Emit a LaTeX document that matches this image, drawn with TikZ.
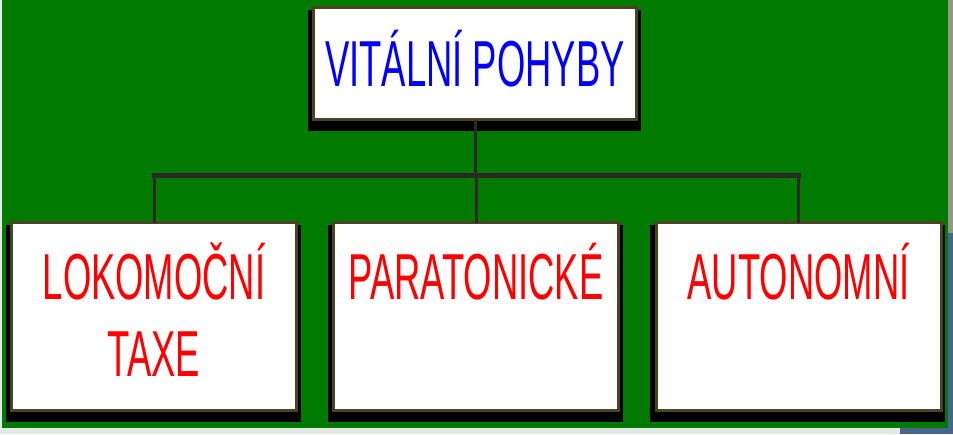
\documentclass[tikz,border=0pt]{standalone}
\usepackage{fontspec}
\newfontfamily\narrowsans{Liberation Sans}[FakeStretch=0.56]
\definecolor{slidegreen}{RGB}{0,123,0}
\definecolor{boxrim}{RGB}{74,68,36}
\definecolor{wirecol}{RGB}{45,40,40}
\definecolor{edgeblue}{RGB}{70,100,140}
\definecolor{edgegray}{RGB}{150,150,135}
\definecolor{edgelight}{RGB}{228,234,228}
\pgfdeclarelayer{bg}
\pgfdeclarelayer{shade}
\pgfsetlayers{bg,shade,main}

\tikzset{
  card/.style={rectangle, draw=boxrim, line width=3pt, fill=white, inner sep=0pt, outer sep=0pt},
  topcard/.style={card, minimum width=323pt, minimum height=112pt, text=blue,
    font=\narrowsans\fontsize{65}{77}\selectfont, text height=46.5pt, text depth=0pt},
  subcard/.style={card, minimum width=285pt, minimum height=188pt},
  subtext/.style={text=red, font=\narrowsans\fontsize{65}{77}\selectfont,
    text width=280pt, align=center, anchor=base, inner sep=0pt},
  wire/.style={wirecol, line width=3pt},
  bus/.style={wirecol, line width=4.5pt, line cap=rect},
}

\begin{document}
\begin{tikzpicture}[x=1pt,y=-1pt]
\useasboundingbox (0,0) rectangle (953,434);

% slide background
\begin{pgfonlayer}{bg}
\fill [edgelight] (0,0) rectangle (953,434);
\fill [slidegreen] (2,0) rectangle (948,428);
\fill [edgegray] (948,0) rectangle (953,233);
\fill [edgeblue] (948,233) rectangle (953,434);
\fill [edgeblue] (900,428) rectangle (953,434);
\end{pgfonlayer}

% boxes
\node [topcard] (top) at (475,63.5) {VITÁLNÍ POHYBY};

\node [subcard] (lok) at (154,316.5) {};
\node [subcard] (par) at (476,316.5) {};
\node [subcard] (aut) at (798.5,316.5) {};

\node [subtext] (lokt) at ([yshift=-76.5pt]lok.north) {LOKOMOČNÍ\\TAXE};
\node [subtext] (part) at ([yshift=-76.5pt]par.north) {PARATONICKÉ};
\node [subtext] (autt) at ([yshift=-76.5pt]aut.north) {AUTONOMNÍ};

% shadows
\begin{pgfonlayer}{shade}
\foreach \n in {top,lok,par,aut}
  \fill [black] ([xshift=-6pt,yshift=-2pt]\n.north west) rectangle ([xshift=4pt,yshift=-11pt]\n.south east);
\end{pgfonlayer}

% connectors
\coordinate (hub) at (475,175.5);
\draw [wire] (top.south) -- (hub);
\draw [bus] (lok.north |- hub) -- (aut.north |- hub);
\foreach \n in {lok,par,aut}
  \draw [wire] (\n.north) -- (\n.north |- hub);

\end{tikzpicture}
\end{document}
